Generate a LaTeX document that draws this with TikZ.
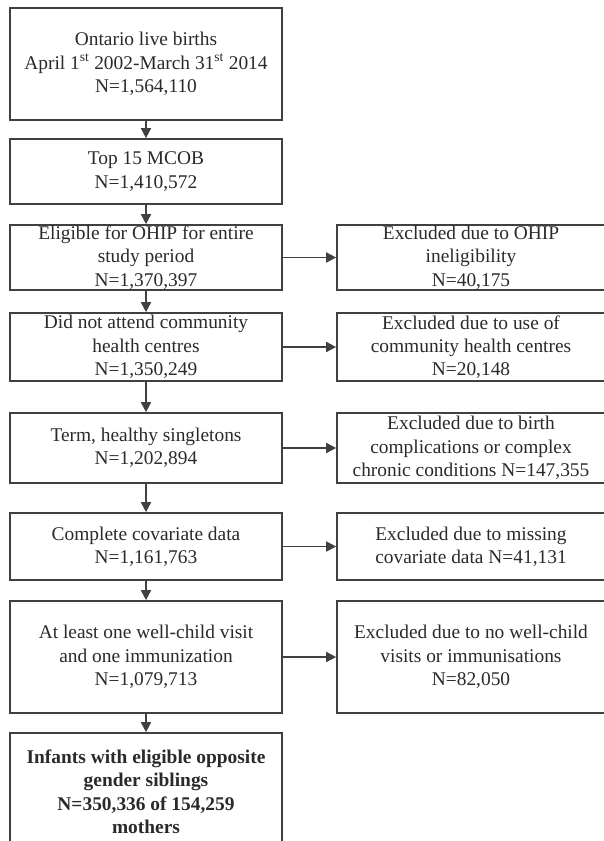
\documentclass[tikz,border=0pt]{standalone}
\usepackage{fontspec}
\setmainfont{Liberation Serif}
\usetikzlibrary{arrows.meta}
\definecolor{linegray}{HTML}{404040}
\definecolor{txtgray}{HTML}{2A2A2A}
\begin{document}
\begin{tikzpicture}[x=1pt,y=-1pt,
  base/.style={draw=linegray, line width=1.7pt, inner sep=0pt, align=center,
    text=txtgray, font=\fontsize{19.4}{23.3}\selectfont},
  lbox/.style={base, minimum width=272pt},
  rbox/.style={base, minimum width=268pt},
  arr/.style={draw=linegray, line width=1.7pt, -{Triangle[length=10pt,width=10pt]}}]
\path[use as bounding box, clip] (0,0) rectangle (604,841);
\fill[white] (0,0) rectangle (604,841);
% left column
\node[lbox, minimum height=112pt] (b1) at (146,64)
  {Ontario live births\\April 1\textsuperscript{st} 2002-March 31\textsuperscript{st} 2014\\N=1,564,110};
\node[lbox, minimum height=65pt] (b2) at (146,171.5)
  {Top 15 MCOB\\N=1,410,572};
\node[lbox, minimum height=65pt] (b3) at (146,257.5)
  {Eligible for OHIP for entire\\study period\\N=1,370,397};
\node[lbox, minimum height=68pt] (b4) at (146,347)
  {Did not attend community\\health centres\\N=1,350,249};
\node[lbox, minimum height=70pt] (b5) at (146,448)
  {Term, healthy singletons\\N=1,202,894};
\node[lbox, minimum height=67pt] (b6) at (146,546.5)
  {Complete covariate data\\N=1,161,763};
\node[lbox, minimum height=112pt] (b7) at (146,657)
  {At least one well-child visit\\and one immunization\\N=1,079,713};
\node[lbox, minimum height=118pt, font=\fontsize{19.4}{23.5}\selectfont\bfseries] (b8) at (146,792)
  {Infants with eligible opposite\\gender siblings\\N=350,336 of 154,259\\mothers};
% right column
\node[rbox, minimum height=65pt] (r3) at (471,257.5)
  {Excluded due to OHIP\\ineligibility\\N=40,175};
\node[rbox, minimum height=68pt] (r4) at (471,347)
  {Excluded due to use of\\community health centres\\N=20,148};
\node[rbox, minimum height=70pt] (r5) at (471,448)
  {Excluded due to birth\\complications or complex\\chronic conditions N=147,355};
\node[rbox, minimum height=67pt] (r6) at (471,546.5)
  {Excluded due to missing\\covariate data N=41,131};
\node[rbox, minimum height=112pt] (r7) at (471,657)
  {Excluded due to no well-child\\visits or immunisations\\N=82,050};
% arrows
\draw[arr] (b1) -- (b2);
\draw[arr] (b2) -- (b3);
\draw[arr] (b3) -- (b4);
\draw[arr] (b4) -- (b5);
\draw[arr] (b5) -- (b6);
\draw[arr] (b6) -- (b7);
\draw[arr] (b7) -- (b8);
\draw[arr] (b3) -- (r3);
\draw[arr] (b4) -- (r4);
\draw[arr] (b5) -- (r5);
\draw[arr] (b6) -- (r6);
\draw[arr] (b7) -- (r7);
\end{tikzpicture}
\end{document}
